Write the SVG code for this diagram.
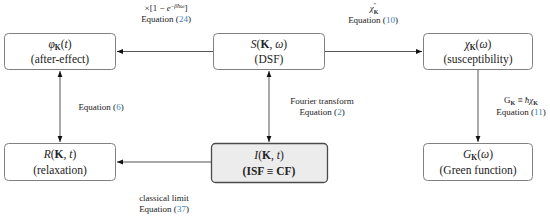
<svg xmlns="http://www.w3.org/2000/svg" width="550" height="218" viewBox="0 0 550 218">
<style>
.box{fill:#fff;stroke:#808080;stroke-width:1}
.hl{fill:#ececec;stroke:#4a4a4a;stroke-width:1.3}
.t{font-family:"Liberation Serif","DejaVu Serif",serif;font-size:11.5px;fill:#222;text-anchor:middle}
.s{font-family:"Liberation Serif","DejaVu Serif",serif;font-size:9px;fill:#222;text-anchor:middle}
.c{stroke:#555;stroke-width:1;fill:none}
.lk{fill:#3a7fc0}
.i{font-style:italic}
.b{font-weight:bold}
</style>
<defs>
<marker id="ah" viewBox="0 0 10 10" refX="10" refY="5" markerWidth="6" markerHeight="6" orient="auto-start-reverse" markerUnits="userSpaceOnUse">
<path d="M0,1 L10,5 L0,9 z" fill="#111"/>
</marker>
</defs>
<g id="connectors">
<line class="c" x1="213" y1="51.5" x2="117" y2="51.5" marker-end="url(#ah)"/>
<line class="c" x1="325" y1="51.5" x2="422" y2="51.5" marker-end="url(#ah)"/>
<line class="c" x1="269" y1="71" x2="269" y2="142" marker-start="url(#ah)" marker-end="url(#ah)"/>
<line class="c" x1="60" y1="71" x2="60" y2="142" marker-start="url(#ah)" marker-end="url(#ah)"/>
<line class="c" x1="478" y1="70" x2="478" y2="142" marker-end="url(#ah)"/>
<line class="c" x1="211" y1="162" x2="117" y2="162" marker-end="url(#ah)"/>
<text class="s" x="166" y="11">×[1 − <tspan class="i">e</tspan><tspan font-size="6" dy="-3.5">−<tspan class="i">βħω</tspan></tspan><tspan dy="3.5">]</tspan></text>
<text class="s" x="166" y="22">Equation (<tspan class="lk">24</tspan>)</text>
<text class="s" x="374" y="11"><tspan class="i">χ</tspan><tspan font-size="6" dy="-4">″</tspan><tspan font-size="6" class="b" dx="-2.5" dy="6.5">K</tspan></text>
<text class="s" x="373" y="23">Equation (<tspan class="lk">10</tspan>)</text>
<text class="s" x="101" y="110">Equation (<tspan class="lk">6</tspan>)</text>
<text class="s" x="322" y="104">Fourier transform</text>
<text class="s" x="322" y="115">Equation (<tspan class="lk">2</tspan>)</text>
<text class="s" x="521" y="103">G<tspan font-size="6" class="b" dy="2">K</tspan><tspan dy="-2"> ≡ </tspan><tspan class="i">ħχ</tspan><tspan font-size="6" class="b" dy="2">K</tspan></text>
<text class="s" x="521" y="115">Equation (<tspan class="lk">11</tspan>)</text>
<text class="s" x="164" y="201">classical limit</text>
<text class="s" x="164" y="212">Equation (<tspan class="lk">37</tspan>)</text>
</g>
<g id="phi">
<rect class="box" x="4.5" y="33.5" width="111" height="36" rx="4"/>
<text class="t" x="60" y="48"><tspan class="i">φ</tspan><tspan font-size="7.5" class="b" dy="2">K</tspan><tspan dy="-2">(</tspan><tspan class="i">t</tspan>)</text>
<text class="t" x="60" y="63">(after-effect)</text>
</g>
<g id="S">
<rect class="box" x="213.5" y="33.5" width="111" height="36" rx="4"/>
<text class="t" x="269" y="48"><tspan class="i">S</tspan>(<tspan class="b">K</tspan>, <tspan class="i">ω</tspan>)</text>
<text class="t" x="269" y="63">(DSF)</text>
</g>
<g id="chi">
<rect class="box" x="423.5" y="33.5" width="109" height="36" rx="4"/>
<text class="t" x="478" y="48"><tspan class="i">χ</tspan><tspan font-size="7.5" class="b" dy="2">K</tspan><tspan dy="-2">(</tspan><tspan class="i">ω</tspan>)</text>
<text class="t" x="478" y="63">(susceptibility)</text>
</g>
<g id="R">
<rect class="box" x="4.5" y="143.5" width="111" height="37" rx="4"/>
<text class="t" x="60" y="158"><tspan class="i">R</tspan>(<tspan class="b">K</tspan>, <tspan class="i">t</tspan>)</text>
<text class="t" x="60" y="174">(relaxation)</text>
</g>
<g id="I">
<rect class="hl" x="211.5" y="143.5" width="116" height="39" rx="4"/>
<text class="t" x="269" y="159"><tspan class="i">I</tspan>(<tspan class="b">K</tspan>, <tspan class="i">t</tspan>)</text>
<text class="t b" x="269" y="175">(ISF ≡ CF)</text>
</g>
<g id="G">
<rect class="box" x="423.5" y="143.5" width="109" height="37" rx="4"/>
<text class="t" x="478" y="158"><tspan class="i">G</tspan><tspan font-size="7.5" class="b" dy="2">K</tspan><tspan dy="-2">(</tspan><tspan class="i">ω</tspan>)</text>
<text class="t" x="478" y="174">(Green function)</text>
</g>
</svg>
